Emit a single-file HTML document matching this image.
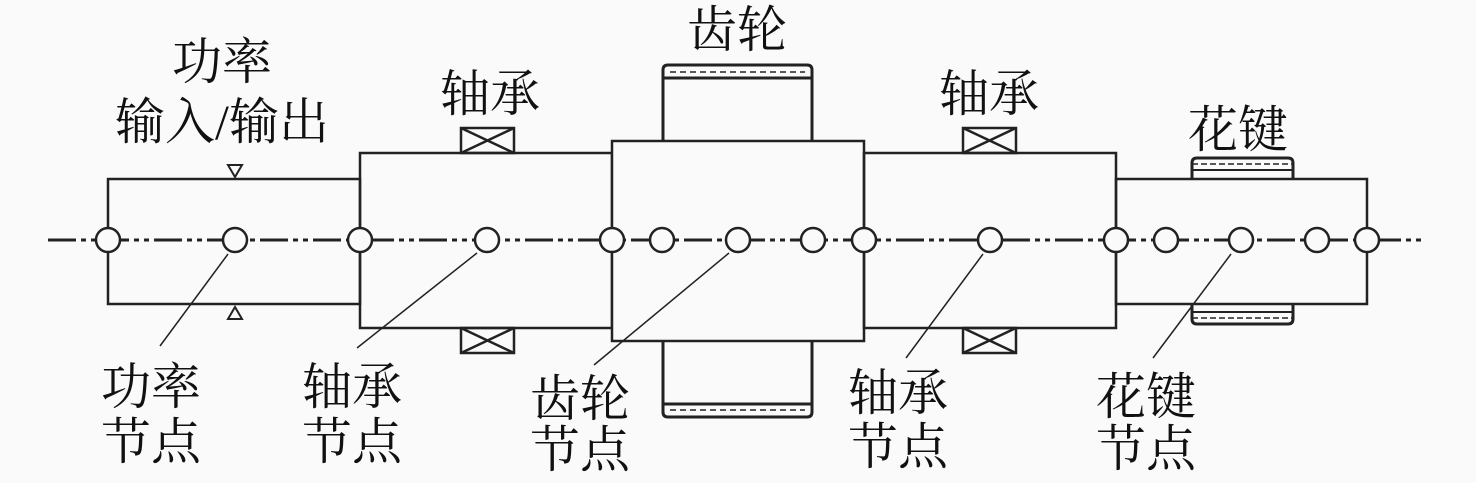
<!DOCTYPE html>
<html><head><meta charset="utf-8"><style>
html,body{margin:0;padding:0;background:#fafafa;}
svg{display:block}
text{font-family:"Liberation Serif","Noto Serif CJK SC",serif;font-size:50px;fill:#111;}
</style></head><body>
<svg width="1476" height="483" viewBox="0 0 1476 483" xmlns="http://www.w3.org/2000/svg">
<rect width="1476" height="483" fill="#fafafa"/>
<g fill="none" stroke="#222" stroke-width="2.5">
<!-- gear teeth -->
<path d="M663,141 V70 Q663,65 668,65 H807 Q812,65 812,70 V141" stroke-width="3"/>
<line x1="663" y1="78" x2="812" y2="78" stroke-width="3"/>
<line x1="670" y1="72" x2="805" y2="72" stroke-dasharray="6,4" stroke-width="1.5"/>
<path d="M663,341 V412 Q663,417 668,417 H807 Q812,417 812,412 V341" stroke-width="3"/>
<line x1="663" y1="404" x2="812" y2="404" stroke-width="3"/>
<line x1="670" y1="410" x2="805" y2="410" stroke-dasharray="6,4" stroke-width="1.5"/>
<!-- spline -->
<path d="M1192,179 V163 Q1192,158 1197,158 H1288 Q1293,158 1293,163 V179" stroke-width="3"/>
<line x1="1192" y1="164" x2="1293" y2="164" stroke-dasharray="6,3" stroke-width="1.5"/>
<line x1="1192" y1="170" x2="1293" y2="170" stroke-width="2"/>
<path d="M1192,304 V319 Q1192,324 1197,324 H1288 Q1293,324 1293,319 V304" stroke-width="3"/>
<line x1="1192" y1="312" x2="1293" y2="312" stroke-width="2"/>
<line x1="1192" y1="318" x2="1293" y2="318" stroke-dasharray="6,3" stroke-width="1.5"/>
<!-- shaft segments -->
<rect x="108" y="179" width="252" height="125"/>
<rect x="360" y="153" width="252" height="175"/>
<rect x="612" y="141" width="252" height="200" fill="#fafafa"/>
<rect x="864" y="153" width="252" height="175"/>
<rect x="1116" y="179" width="251" height="125"/>
<!-- bearings -->
<rect x="461" y="128" width="53" height="25"/><path d="M461,128 L514,153 M514,128 L461,153"/>
<rect x="461" y="328" width="53" height="25"/><path d="M461,328 L514,353 M514,328 L461,353"/>
<rect x="963" y="128" width="53" height="25"/><path d="M963,128 L1016,153 M1016,128 L963,153"/>
<rect x="963" y="328" width="53" height="25"/><path d="M963,328 L1016,353 M1016,328 L963,353"/>
<!-- triangles -->
<path d="M228,165 H242 L235,177 Z" stroke-width="2"/>
<path d="M228,319 H242 L235,307 Z" stroke-width="2"/>
<!-- centerline -->
<line x1="48" y1="240" x2="1426" y2="240" stroke-width="3" stroke-dasharray="28,5,5,5,5,5"/>
<!-- leaders -->
<g stroke-width="1.5">
<line x1="228" y1="254" x2="160" y2="346"/>
<line x1="477" y1="253" x2="357" y2="348"/>
<line x1="729" y1="253" x2="594" y2="365"/>
<line x1="983" y1="254" x2="906" y2="358"/>
<line x1="1231" y1="254" x2="1153" y2="358"/>
</g>
</g>
<g fill="#fafafa" stroke="#222" stroke-width="2.5">
<circle cx="108" cy="240" r="12"/><circle cx="235" cy="240" r="12"/><circle cx="360" cy="240" r="12"/>
<circle cx="487" cy="240" r="12"/><circle cx="612" cy="240" r="12"/><circle cx="662" cy="240" r="12"/>
<circle cx="738" cy="240" r="12"/><circle cx="813" cy="240" r="12"/><circle cx="864" cy="240" r="12"/>
<circle cx="990" cy="240" r="12"/><circle cx="1116" cy="240" r="12"/><circle cx="1166" cy="240" r="12"/>
<circle cx="1241" cy="240" r="12"/><circle cx="1317" cy="240" r="12"/><circle cx="1367" cy="240" r="12"/>
</g>
<g text-anchor="middle">
<text x="222" y="79">功率</text>
<text x="222" y="139">输入/输出</text>
<text x="490" y="111">轴承</text>
<text x="737" y="47">齿轮</text>
<text x="989" y="111">轴承</text>
<text x="1238" y="147">花键</text>
<text x="151" y="404">功率</text><text x="151" y="459">节点</text>
<text x="352" y="404">轴承</text><text x="352" y="459">节点</text>
<text x="580" y="416">齿轮</text><text x="580" y="467">节点</text>
<text x="898" y="410">轴承</text><text x="898" y="464">节点</text>
<text x="1146" y="414">花键</text><text x="1146" y="466">节点</text>
</g>
</svg>
</body></html>
